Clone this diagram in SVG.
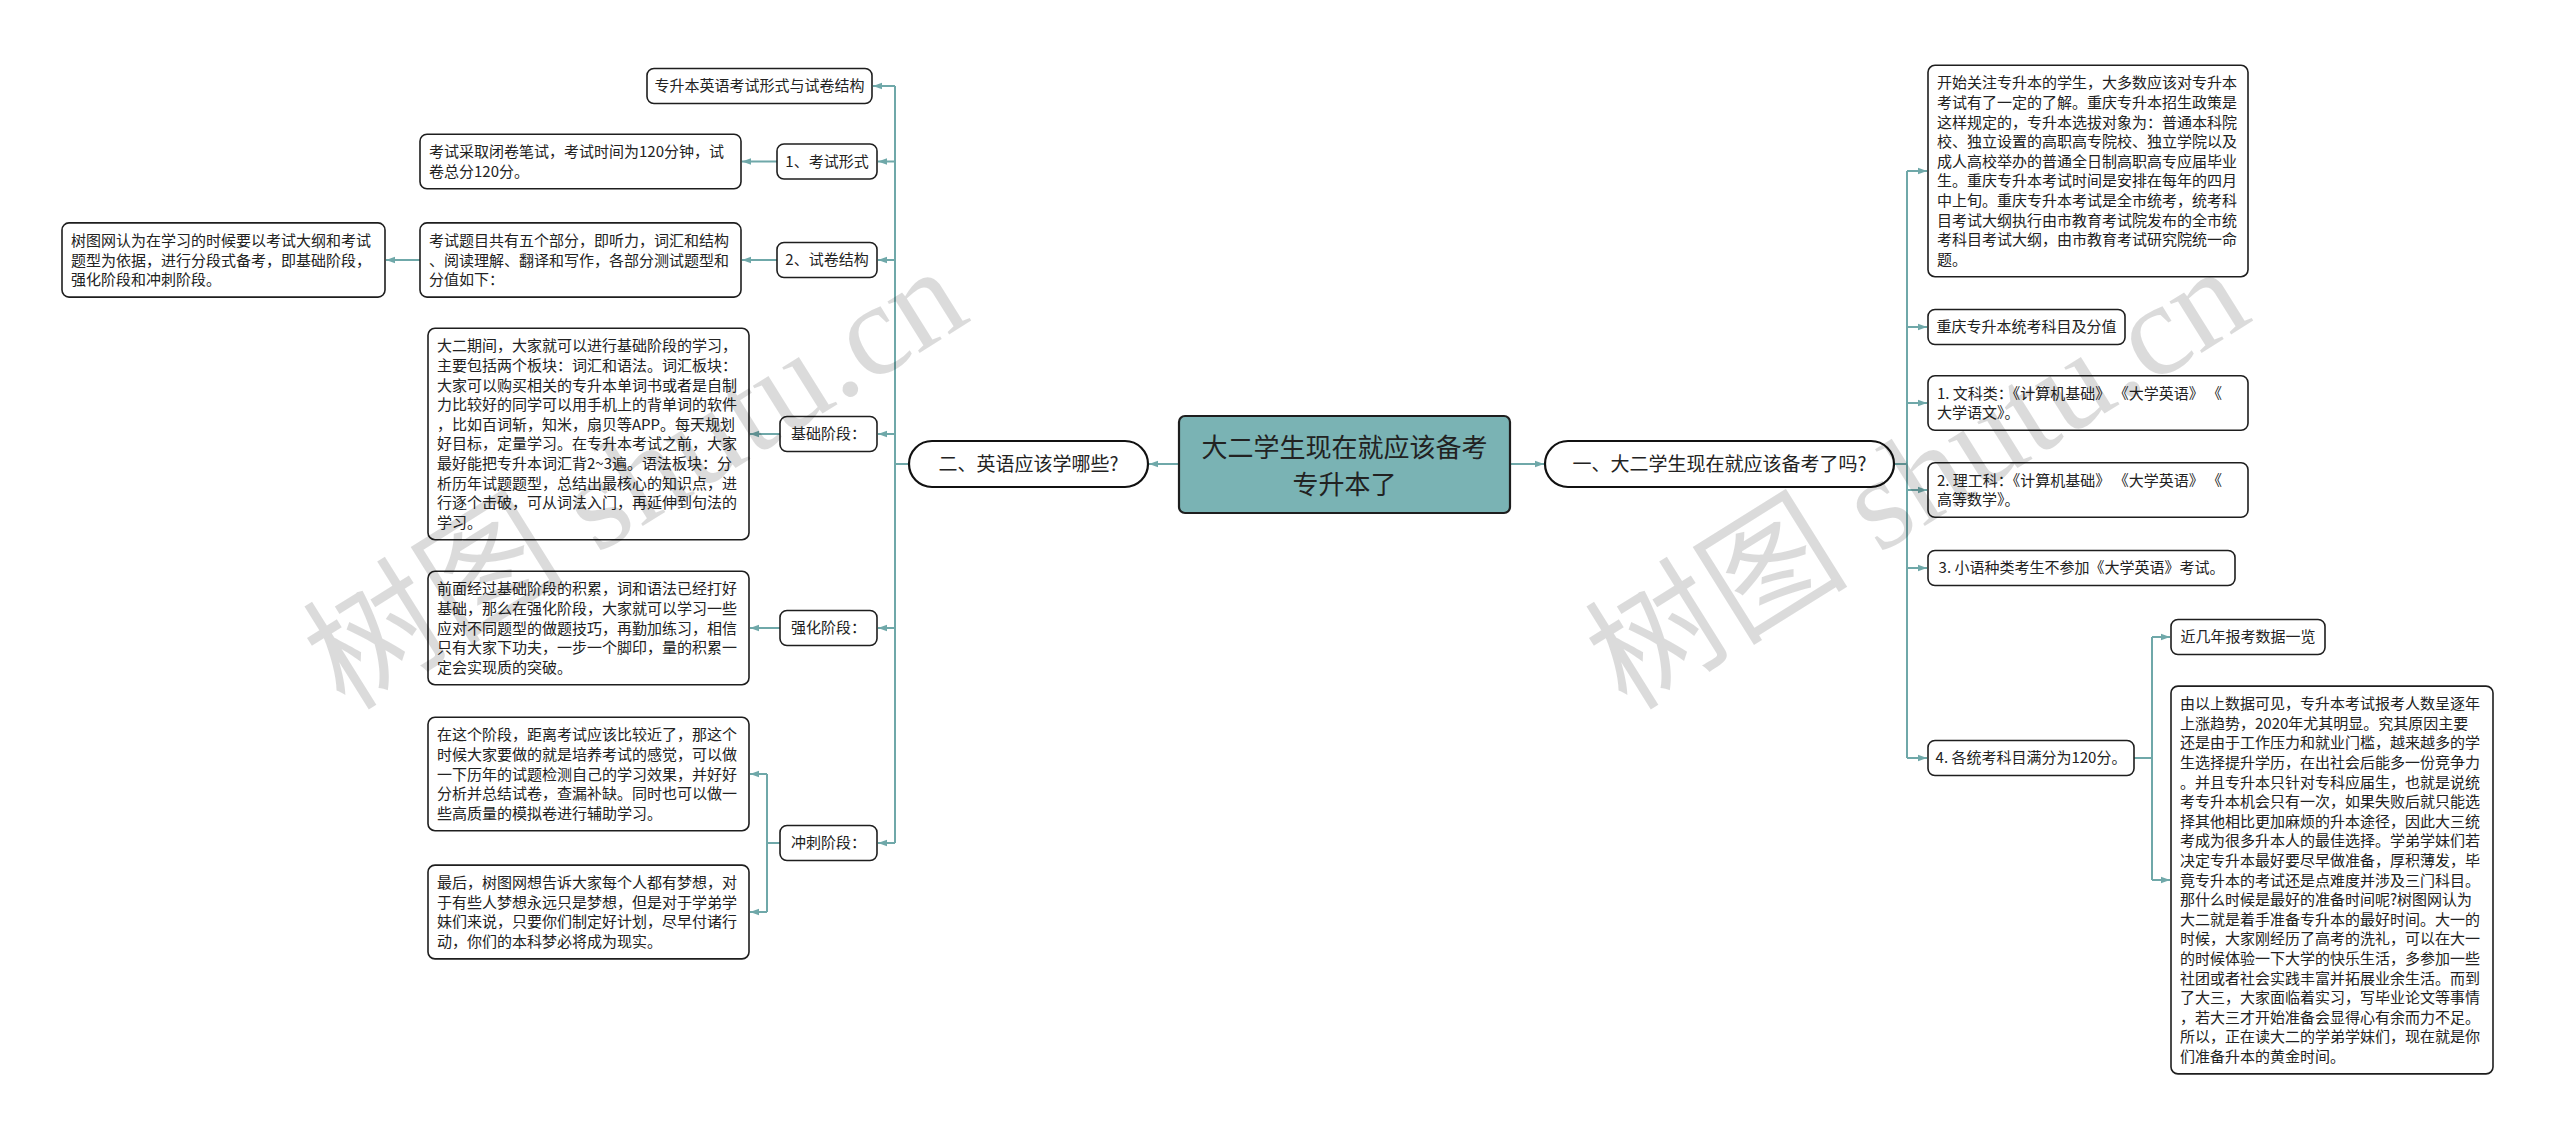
<svg xmlns="http://www.w3.org/2000/svg" width="2560" height="1139" viewBox="0 0 2560 1139">
<style>
.bg{fill:#ffffff}
.box{fill:#ffffff;stroke:#1e1e1e;stroke-width:1.6}
.pill{fill:#ffffff;stroke:#111111;stroke-width:2.2}
.root{fill:#7ab3b4;stroke:#1e1e1e;stroke-width:2.2}
.t{font-family:"Noto Sans CJK SC","Noto Sans",sans-serif;font-size:15px;fill:#222222}
.tm{font-family:"Noto Sans CJK SC","Noto Sans",sans-serif;font-size:15px;fill:#222222;text-anchor:middle}
.tp{font-family:"Noto Sans CJK SC","Noto Sans",sans-serif;font-size:19px;fill:#222222;text-anchor:middle}
.tr{font-family:"Noto Sans CJK SC","Noto Sans",sans-serif;font-size:26px;fill:#222222;text-anchor:middle}
.conn{stroke:#6fa8a9;stroke-width:2;fill:none}
.arr{stroke:#6fa8a9;stroke-width:2;fill:none;marker-end:url(#ah)}
.wm{font-family:"Liberation Serif","Noto Sans CJK SC",serif;font-size:132px;fill:#000000;fill-opacity:0.14}
</style>
<defs>
<marker id="ah" viewBox="0 0 10 10" refX="10" refY="5" markerWidth="9" markerHeight="9" markerUnits="userSpaceOnUse" orient="auto">
<path d="M0,1.5 L10,5 L0,8.5 z" fill="#6fa8a9"/>
</marker>
</defs>
<rect class="bg" x="0" y="0" width="2560" height="1139"/>

<g id="connectors">
<path class="arr" d="M1510,464 H1544"/>
<path class="arr" d="M1179,464 H1149"/>
<path class="conn" d="M909,464 H895"/>
<path class="conn" d="M895,86 V843"/>
<path class="arr" d="M895,86 H873"/>
<path class="arr" d="M895,161.5 H878"/>
<path class="arr" d="M895,260 H878"/>
<path class="arr" d="M895,434 H878"/>
<path class="arr" d="M895,628 H878"/>
<path class="arr" d="M895,843 H878"/>
<path class="arr" d="M777,161.5 H742"/>
<path class="arr" d="M777,260 H742"/>
<path class="arr" d="M420,260 H386"/>
<path class="arr" d="M780,434 H750"/>
<path class="arr" d="M780,628 H750"/>
<path class="conn" d="M780,843 H767"/>
<path class="conn" d="M767,774 V912"/>
<path class="arr" d="M767,774 H750"/>
<path class="arr" d="M767,912 H750"/>
<path class="conn" d="M1894,464 H1907"/>
<path class="conn" d="M1907,171 V758"/>
<path class="arr" d="M1907,171 H1927"/>
<path class="arr" d="M1907,327 H1927"/>
<path class="arr" d="M1907,403 H1927"/>
<path class="arr" d="M1907,490 H1927"/>
<path class="arr" d="M1907,568 H1927"/>
<path class="arr" d="M1907,758 H1927"/>
<path class="conn" d="M2134,758 H2152"/>
<path class="conn" d="M2152,637 V880"/>
<path class="arr" d="M2152,637 H2170"/>
<path class="arr" d="M2152,880 H2170"/>
</g>

<g id="root">
<rect class="root" x="1179" y="416" width="331" height="97" rx="6"/>
<text class="tr" x="1344.5" y="457">大二学生现在就应该备考</text>
<text class="tr" x="1344.5" y="494">专升本了</text>
</g>

<g id="n-left-main">
<rect class="pill" x="909" y="441" width="239" height="46" rx="23"/>
<text class="tp" x="1028.5" y="471">二、英语应该学哪些?</text>
</g>

<g id="n-right-main">
<rect class="pill" x="1545" y="441" width="349" height="46" rx="23"/>
<text class="tp" x="1719.5" y="471">一、大二学生现在就应该备考了吗?</text>
</g>

<g id="n-a">
<rect class="box" x="647" y="68.5" width="225" height="35" rx="7"/>
<text class="tm" x="759.5" y="91">专升本英语考试形式与试卷结构</text>
</g>
<g id="n-b">
<rect class="box" x="777" y="144" width="100" height="35" rx="7"/>
<text class="tm" x="827" y="166.5">1、考试形式</text>
</g>
<g id="n-c">
<rect class="box" x="420" y="134.2" width="321" height="54.6" rx="7"/>
<text class="t" x="429" y="157.2">考试采取闭卷笔试，考试时间为120分钟，试</text>
<text class="t" x="429" y="176.8">卷总分120分。</text>
</g>
<g id="n-d">
<rect class="box" x="777" y="242.5" width="100" height="35" rx="7"/>
<text class="tm" x="827" y="265">2、试卷结构</text>
</g>
<g id="n-e">
<rect class="box" x="420" y="222.9" width="321" height="74.2" rx="7"/>
<text class="t" x="429" y="245.9">考试题目共有五个部分，即听力，词汇和结构</text>
<text class="t" x="429" y="265.5">、阅读理解、翻译和写作，各部分测试题型和</text>
<text class="t" x="429" y="285.1">分值如下：</text>
</g>
<g id="n-f">
<rect class="box" x="62" y="222.9" width="323" height="74.2" rx="7"/>
<text class="t" x="71" y="245.9">树图网认为在学习的时候要以考试大纲和考试</text>
<text class="t" x="71" y="265.5">题型为依据，进行分段式备考，即基础阶段，</text>
<text class="t" x="71" y="285.1">强化阶段和冲刺阶段。</text>
</g>
<g id="n-g">
<rect class="box" x="780" y="416.5" width="97" height="35" rx="7"/>
<text class="tm" x="828.5" y="439">基础阶段：</text>
</g>
<g id="n-h">
<rect class="box" x="428" y="328.3" width="321" height="211.4" rx="7"/>
<text class="t" x="437" y="351.3">大二期间，大家就可以进行基础阶段的学习，</text>
<text class="t" x="437" y="370.9">主要包括两个板块：词汇和语法。词汇板块：</text>
<text class="t" x="437" y="390.5">大家可以购买相关的专升本单词书或者是自制</text>
<text class="t" x="437" y="410.1">力比较好的同学可以用手机上的背单词的软件</text>
<text class="t" x="437" y="429.7">，比如百词斩，知米，扇贝等APP。每天规划</text>
<text class="t" x="437" y="449.3">好目标，定量学习。在专升本考试之前，大家</text>
<text class="t" x="437" y="468.9">最好能把专升本词汇背2~3遍。语法板块：分</text>
<text class="t" x="437" y="488.5">析历年试题题型，总结出最核心的知识点，进</text>
<text class="t" x="437" y="508.1">行逐个击破，可从词法入门，再延伸到句法的</text>
<text class="t" x="437" y="527.7">学习。</text>
</g>
<g id="n-i">
<rect class="box" x="780" y="610.5" width="97" height="35" rx="7"/>
<text class="tm" x="828.5" y="633">强化阶段：</text>
</g>
<g id="n-j">
<rect class="box" x="428" y="571.3" width="321" height="113.4" rx="7"/>
<text class="t" x="437" y="594.3">前面经过基础阶段的积累，词和语法已经打好</text>
<text class="t" x="437" y="613.9">基础，那么在强化阶段，大家就可以学习一些</text>
<text class="t" x="437" y="633.5">应对不同题型的做题技巧，再勤加练习，相信</text>
<text class="t" x="437" y="653.1">只有大家下功夫，一步一个脚印，量的积累一</text>
<text class="t" x="437" y="672.7">定会实现质的突破。</text>
</g>
<g id="n-k">
<rect class="box" x="780" y="825.5" width="97" height="35" rx="7"/>
<text class="tm" x="828.5" y="848">冲刺阶段：</text>
</g>
<g id="n-l">
<rect class="box" x="428" y="717.3" width="321" height="113.4" rx="7"/>
<text class="t" x="437" y="740.3">在这个阶段，距离考试应该比较近了，那这个</text>
<text class="t" x="437" y="759.9">时候大家要做的就是培养考试的感觉，可以做</text>
<text class="t" x="437" y="779.5">一下历年的试题检测自己的学习效果，并好好</text>
<text class="t" x="437" y="799.1">分析并总结试卷，查漏补缺。同时也可以做一</text>
<text class="t" x="437" y="818.7">些高质量的模拟卷进行辅助学习。</text>
</g>
<g id="n-m">
<rect class="box" x="428" y="865.1" width="321" height="93.8" rx="7"/>
<text class="t" x="437" y="888.1">最后，树图网想告诉大家每个人都有梦想，对</text>
<text class="t" x="437" y="907.7">于有些人梦想永远只是梦想，但是对于学弟学</text>
<text class="t" x="437" y="927.3">妹们来说，只要你们制定好计划，尽早付诸行</text>
<text class="t" x="437" y="946.9">动，你们的本科梦必将成为现实。</text>
</g>

<g id="n-n">
<rect class="box" x="1928" y="65.3" width="320" height="211.4" rx="7"/>
<text class="t" x="1937" y="88.3">开始关注专升本的学生，大多数应该对专升本</text>
<text class="t" x="1937" y="107.9">考试有了一定的了解。重庆专升本招生政策是</text>
<text class="t" x="1937" y="127.5">这样规定的，专升本选拔对象为：普通本科院</text>
<text class="t" x="1937" y="147.1">校、独立设置的高职高专院校、独立学院以及</text>
<text class="t" x="1937" y="166.7">成人高校举办的普通全日制高职高专应届毕业</text>
<text class="t" x="1937" y="186.3">生。重庆专升本考试时间是安排在每年的四月</text>
<text class="t" x="1937" y="205.9">中上旬。重庆专升本考试是全市统考，统考科</text>
<text class="t" x="1937" y="225.5">目考试大纲执行由市教育考试院发布的全市统</text>
<text class="t" x="1937" y="245.1">考科目考试大纲，由市教育考试研究院统一命</text>
<text class="t" x="1937" y="264.7">题。</text>
</g>
<g id="n-o">
<rect class="box" x="1928" y="309.5" width="197" height="35" rx="7"/>
<text class="tm" x="2026.5" y="332">重庆专升本统考科目及分值</text>
</g>
<g id="n-p">
<rect class="box" x="1928" y="375.7" width="320" height="54.6" rx="7"/>
<text class="t" x="1937" y="398.7" xml:space="preserve">1. 文科类：《计算机基础》 《大学英语》 《</text>
<text class="t" x="1937" y="418.3">大学语文》。</text>
</g>
<g id="n-q">
<rect class="box" x="1928" y="462.7" width="320" height="54.6" rx="7"/>
<text class="t" x="1937" y="485.7" xml:space="preserve">2. 理工科：《计算机基础》 《大学英语》 《</text>
<text class="t" x="1937" y="505.3">高等数学》。</text>
</g>
<g id="n-r">
<rect class="box" x="1928" y="550.5" width="307" height="35" rx="7"/>
<text class="tm" x="2081.5" y="573">3. 小语种类考生不参加《大学英语》考试。</text>
</g>
<g id="n-s">
<rect class="box" x="1928" y="740.5" width="206" height="35" rx="7"/>
<text class="tm" x="2031" y="763">4. 各统考科目满分为120分。</text>
</g>
<g id="n-t">
<rect class="box" x="2171" y="619.5" width="154" height="35" rx="7"/>
<text class="tm" x="2248" y="642">近几年报考数据一览</text>
</g>
<g id="n-u">
<rect class="box" x="2171" y="686.1" width="322" height="387.8" rx="7"/>
<text class="t" x="2180" y="709.1">由以上数据可见，专升本考试报考人数呈逐年</text>
<text class="t" x="2180" y="728.7">上涨趋势，2020年尤其明显。究其原因主要</text>
<text class="t" x="2180" y="748.3">还是由于工作压力和就业门槛，越来越多的学</text>
<text class="t" x="2180" y="767.9">生选择提升学历，在出社会后能多一份竞争力</text>
<text class="t" x="2180" y="787.5">。并且专升本只针对专科应届生，也就是说统</text>
<text class="t" x="2180" y="807.1">考专升本机会只有一次，如果失败后就只能选</text>
<text class="t" x="2180" y="826.7">择其他相比更加麻烦的升本途径，因此大三统</text>
<text class="t" x="2180" y="846.3">考成为很多升本人的最佳选择。学弟学妹们若</text>
<text class="t" x="2180" y="865.9">决定专升本最好要尽早做准备，厚积薄发，毕</text>
<text class="t" x="2180" y="885.5">竟专升本的考试还是点难度并涉及三门科目。</text>
<text class="t" x="2180" y="905.1">那什么时候是最好的准备时间呢?树图网认为</text>
<text class="t" x="2180" y="924.7">大二就是着手准备专升本的最好时间。大一的</text>
<text class="t" x="2180" y="944.3">时候，大家刚经历了高考的洗礼，可以在大一</text>
<text class="t" x="2180" y="963.9">的时候体验一下大学的快乐生活，多参加一些</text>
<text class="t" x="2180" y="983.5">社团或者社会实践丰富并拓展业余生活。而到</text>
<text class="t" x="2180" y="1003.1">了大三，大家面临着实习，写毕业论文等事情</text>
<text class="t" x="2180" y="1022.7">，若大三才开始准备会显得心有余而力不足。</text>
<text class="t" x="2180" y="1042.3">所以，正在读大二的学弟学妹们，现在就是你</text>
<text class="t" x="2180" y="1061.9">们准备升本的黄金时间。</text>
</g>

<g id="watermarks">
<text class="wm" transform="translate(345,712) rotate(-32)">树图 shutu.cn</text>
<text class="wm" transform="translate(1627,712) rotate(-32)">树图 shutu.cn</text>
</g>
</svg>
